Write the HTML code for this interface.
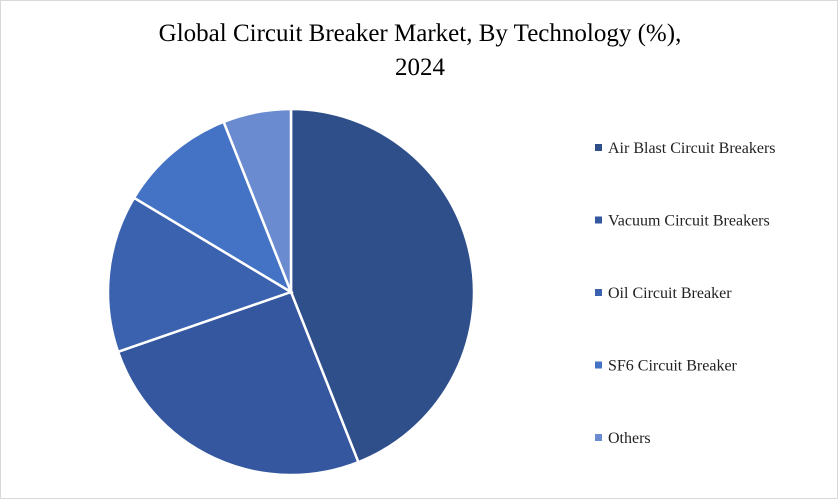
<!DOCTYPE html>
<html><head><meta charset="utf-8"><style>
body{margin:0;background:#fff}
#c{position:relative;width:836px;height:497px;border:1px solid #d9d9d9;background:#fff;font-family:"Liberation Serif",serif}
#title{position:absolute;left:0;top:16px;width:838px;text-align:center;font-size:25px;line-height:34px;color:#000}
</style></head><body>
<div id="c">
<div id="title">Global Circuit Breaker Market, By Technology (%),<br>2024</div>
<svg id="svg" width="836" height="497" style="position:absolute;left:0;top:0"></svg>
</div>
<script>
const categories=["Air Blast Circuit Breakers","Vacuum Circuit Breakers","Oil Circuit Breaker","SF6 Circuit Breaker","Others"];
const values=[44,25.7,13.9,10.4,6];
const colors=["#2f4f8a","#3457a0","#3a62ae","#4472c4","#6a8bd0"];
const svg=document.getElementById('svg');const NS="http://www.w3.org/2000/svg";
const cx=290,cy=291,r=183;
const total=values.reduce((a,b)=>a+b,0);
let a0=0;
function pt(a){return [cx+r*Math.sin(a),cy-r*Math.cos(a)];}
values.forEach((v,i)=>{
 const a1=a0+v/total*2*Math.PI;
 const p0=pt(a0),p1=pt(a1);
 const large=(a1-a0)>Math.PI?1:0;
 const p=document.createElementNS(NS,'path');
 p.setAttribute('d',`M${cx},${cy}L${p0[0]},${p0[1]}A${r},${r} 0 ${large} 1 ${p1[0]},${p1[1]}Z`);
 p.setAttribute('fill',colors[i]);p.setAttribute('stroke','#fff');p.setAttribute('stroke-width','2.5');
 
 
 svg.appendChild(p);a0=a1;
});
categories.forEach((c,i)=>{
 const y=147+i*72.5;
 const g=document.createElementNS(NS,'g');
 
 
 const s=document.createElementNS(NS,'rect');
 s.setAttribute('x',594);s.setAttribute('y',y-4);s.setAttribute('width',7);s.setAttribute('height',7);s.setAttribute('fill',colors[i]);
 const t=document.createElementNS(NS,'text');
 t.setAttribute('x',607);t.setAttribute('y',y+5);t.setAttribute('font-size','16');t.setAttribute('fill','#222');
 t.setAttribute('font-family','Liberation Serif, serif');t.textContent=c;
 g.appendChild(s);g.appendChild(t);svg.appendChild(g);
});
</script>
</body></html>
